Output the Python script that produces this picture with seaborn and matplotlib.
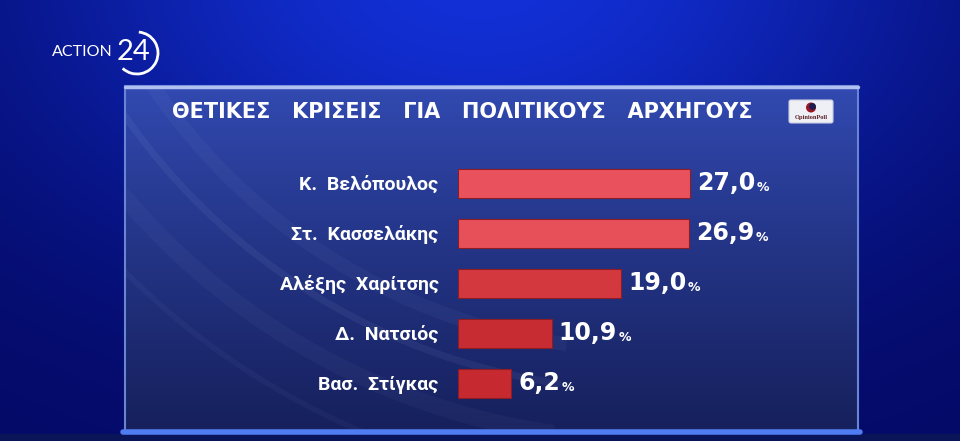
import numpy as np
import pandas as pd
import matplotlib.pyplot as plt
import seaborn as sns
from matplotlib.patches import Rectangle, FancyBboxPatch, Circle, Arc

# data
leaders = ['Κ.  Βελόπουλος', 'Στ.  Κασσελάκης', 'Αλέξης  Χαρίτσης', 'Δ.  Νατσιός', 'Βασ.  Στίγκας']
scores = [27.0, 26.9, 19.0, 10.9, 6.2]
bar_colors = ['#e9525c', '#e74f59', '#d4383f', '#c82c33', '#c62a30']
title = 'ΘΕΤΙΚΕΣ   ΚΡΙΣΕΙΣ   ΓΙΑ   ΠΟΛΙΤΙΚΟΥΣ   ΑΡΧΗΓΟΥΣ'

df = pd.DataFrame({'leader': leaders, 'score': scores})

sns.set_theme(style='white')
plt.rcParams['font.family'] = ['DejaVu Sans']
label_font = ['Roboto', 'DejaVu Sans']

W, H = 960, 441
fig = plt.figure(figsize=(W / 100, H / 100), dpi=100)

# background layer in pixel coordinates
bg = fig.add_axes([0, 0, 1, 1])
bg.axis('off')

yy, xx = np.mgrid[0:H, 0:W]
glow = np.exp(-(((xx - 480) / 470.0) ** 2 + ((yy + 30) / 300.0) ** 2))
dark = np.array([4, 9, 100]) / 255
bright = np.array([18, 48, 215]) / 255
img = dark + glow[..., None] * (bright - dark)
bg.imshow(img, extent=(0, W, H, 0), aspect='auto', zorder=0)

# panel
px0, px1, py0, py1 = 125, 858, 86, 432
t = np.linspace(0, 1, 200)[:, None]
top_c = np.array([50, 74, 178]) / 255
bot_c = np.array([22, 32, 92]) / 255
panel = top_c + (bot_c - top_c) * t[..., None] ** 0.9
panel = np.repeat(panel, 2, axis=1)
bg.imshow(panel, extent=(px0, px1, py1, py0), aspect='auto', zorder=2)
frame = Rectangle((px0, py0), px1 - px0, py1 - py0, fill=False, ec='#6a84d4', lw=1.5, zorder=3)
bg.add_patch(frame)

# faint light streaks inside the panel
for r, a, w in [(600, 0.04, 10), (640, 0.06, 5), (690, 0.035, 12), (740, 0.035, 4)]:
    streak = Arc((650, -250), 2 * r, 2 * r, theta1=98, theta2=150, color='#cfe0ff',
                 alpha=a, lw=w, zorder=2.5)
    bg.add_patch(streak)
    streak.set_clip_path(frame)

bg.plot([px0, px1], [py0 + 1, py0 + 1], color='#b0c0f0', lw=2.5, zorder=3)
bg.fill_between([0, W], py1 + 2, H, color='#0a1458', zorder=2)
bg.plot([px0 - 2, px1 + 2], [py1, py1], color='#4f7cf0', lw=4, zorder=3)
bg.set_xlim(0, W)
bg.set_ylim(H, 0)

# title
bg.text(462, 112, title, color='white', fontsize=15, fontweight='bold', ha='center', va='center', zorder=4)

# opinion poll logo
bg.add_patch(FancyBboxPatch((789, 100), 44, 23, boxstyle='round,pad=0,rounding_size=2',
                            fc='#eef0f6', ec='#c8cce0', lw=0.8, zorder=4))
bg.add_patch(Circle((811, 107.5), 5, fc='#9a1622', ec='none', zorder=5))
bg.add_patch(Circle((812.5, 106.5), 3.4, fc='#1a1c50', ec='none', zorder=5))
bg.text(811, 118, 'OpinionPoll', fontsize=4.6, color='#5a1e22', fontweight='bold',
        family=['Liberation Serif', 'DejaVu Serif'], ha='center', va='center', zorder=5)

# channel logo
bg.text(52, 52, 'ACTION', color='white', fontsize=11.5, family=['Lato', 'DejaVu Sans'],
        ha='left', va='center', zorder=4)
bg.text(134, 52, '24', color='white', fontsize=21, family=['Lato', 'DejaVu Sans'],
        ha='center', va='center', zorder=4)
bg.add_patch(Arc((137, 53), 42, 42, theta1=-85, theta2=133, color='white', lw=2, zorder=4))

# bar chart
ax = fig.add_axes([458 / W, 33 / H, 300 / W, 250 / H])
ax.patch.set_alpha(0)
sns.barplot(data=df, x='score', y='leader', hue='leader', palette=bar_colors,
            legend=False, orient='h', width=0.58, saturation=1, ax=ax)
ax.set_xlim(0, 34.9)
ax.set_ylim(4.5, -0.5)
for bar in ax.patches:
    bar.set_edgecolor('#8e1c24')
    bar.set_linewidth(0.8)
sns.despine(ax=ax, left=True, bottom=True)
ax.set_xticks([])
ax.set_xlabel('')
ax.set_ylabel('')
ax.tick_params(axis='y', length=0, pad=14)
for lab in ax.get_yticklabels():
    lab.set_color('white')
    lab.set_fontweight('bold')
    lab.set_fontsize(14)
    lab.set_family(label_font)

for i, v in enumerate(scores):
    num = ax.annotate(f'{v:.1f}'.replace('.', ','), xy=(v, i), xytext=(5, 0),
                      textcoords='offset points', ha='left', va='center',
                      color='white', fontsize=17, fontweight='bold')
    ax.annotate('%', xy=(1, 0.5), xycoords=num, xytext=(1, -3), textcoords='offset points',
                ha='left', va='center', color='white', fontsize=9, fontweight='bold')

fig.savefig('out.png', dpi=100)
